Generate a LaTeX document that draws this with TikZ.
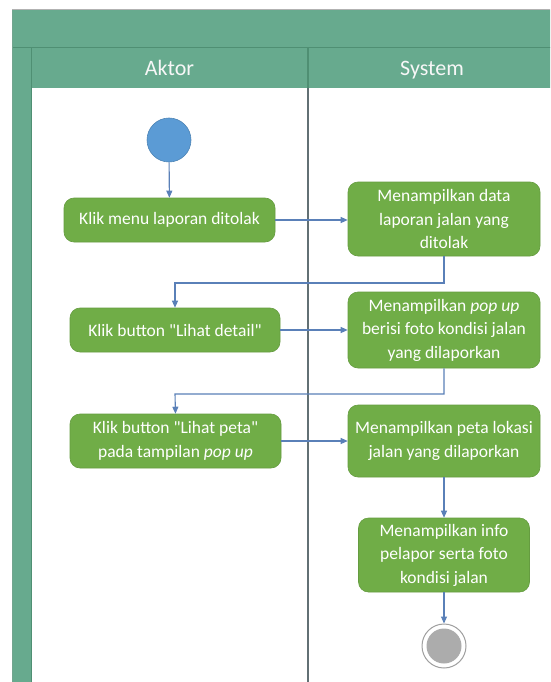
\documentclass[tikz,border=0pt]{standalone}
\usepackage{fontspec}
\setmainfont{Carlito}[Ligatures=TeXOff]
\usetikzlibrary{arrows.meta}
\definecolor{hdrgreen}{HTML}{67AA8E}
\definecolor{hdrline}{HTML}{4F8F73}
\definecolor{boxgreen}{HTML}{70AD47}
\definecolor{conn}{HTML}{5A80B8}
\definecolor{startblue}{HTML}{5B9BD5}
\definecolor{divgray}{HTML}{627074}
\tikzset{
  actbox/.style={draw=boxgreen!90!black, line width=0.6pt, fill=boxgreen, rounded corners=10pt,
    text=white, align=center, inner sep=0pt, font=\fontsize{17.5}{23.5}\selectfont},
  flow/.style={draw=conn, line width=1.1pt, -{Triangle[length=7pt,width=6pt]}},
  lanehdr/.style={text=white!94!gray, font=\fontsize{22}{26}\selectfont, inner sep=0pt, anchor=base}
}
\begin{document}
\begin{tikzpicture}[x=1pt,y=-1pt]
\useasboundingbox (0,0) rectangle (550,682);
\clip (0,0) rectangle (550,682);
\fill[white] (0,0) rectangle (550,682);
% swimlane frame
\fill[hdrgreen] (12,10) rectangle (570,48);
\fill[hdrgreen] (31,48) rectangle (570,88);
\fill[hdrgreen] (12,48) rectangle (31,700);
\draw[gray!60, line width=1pt] (12,10) -- (570,10);
\draw[hdrline, line width=1pt] (12,48) -- (570,48);
\draw[hdrline, line width=1pt] (31,48) -- (31,700);
\draw[hdrline!80!white, line width=0.6pt] (12,10) -- (12,700);
\draw[hdrline, line width=1.5pt] (308,48) -- (308,88);
\draw[divgray, line width=1.5pt] (308,88) -- (308,700);
\node[lanehdr] (laneA) at (169.5,76) {Aktor};
\node[lanehdr] (laneS) at (432,76) {System};
% nodes
\node[circle, fill=startblue, draw=startblue!85!black, line width=0.6pt, minimum size=44pt, inner sep=0pt] (start) at (169,140) {};
\node[actbox, minimum width=211pt, minimum height=44pt] (b1) at (169.5,220) {Klik menu laporan ditolak};
\node[actbox, minimum width=192pt, minimum height=74pt] (b2) at (444,219) {Menampilkan data\\laporan jalan yang\\ditolak};
\node[actbox, minimum width=210pt, minimum height=44pt] (b3) at (175,330) {Klik button "Lihat detail"};
\node[actbox, minimum width=192pt, minimum height=76pt] (b4) at (444,330) {Menampilkan \textit{pop up}\\berisi foto kondisi jalan\\yang dilaporkan};
\node[actbox, minimum width=211pt, minimum height=54pt] (b5) at (175.5,441) {Klik button "Lihat peta"\\pada tampilan \textit{pop up}};
\node[actbox, minimum width=192pt, minimum height=72pt] (b6) at (444,441) {Menampilkan peta lokasi\\jalan yang dilaporkan};
\node[actbox, minimum width=171pt, minimum height=74pt] (b7) at (444,555) {Menampilkan info\\pelapor serta foto\\kondisi jalan};
\node[circle, draw=gray!75, line width=1pt, minimum size=44pt, inner sep=0pt] (end) at (444,646) {};
\node[circle, fill=gray!65, minimum size=35pt, inner sep=0pt] (endin) at (end.center) {};
% connectors
\coordinate (c1) at (444,283);
\coordinate (c2) at (175,283);
\coordinate (c3) at (444,394);
\coordinate (c4) at (175,394);
\draw[flow] (start) -- (b1);
\draw[flow] (b1.east) -- (b2.west |- b1.east);
\draw[flow] (b2.south) -- (c1) -- (c2) -- (b3.north);
\draw[flow] (b3.east) -- (b4.west |- b3.east);
\draw[flow] (b4.south) -- (c3) -- (c4) -- (b5.north);
\draw[flow] (b5.east) -- (b6.west |- b5.east);
\draw[flow] (b6) -- (b7);
\draw[flow] (b7) -- (end);
\end{tikzpicture}
\end{document}
